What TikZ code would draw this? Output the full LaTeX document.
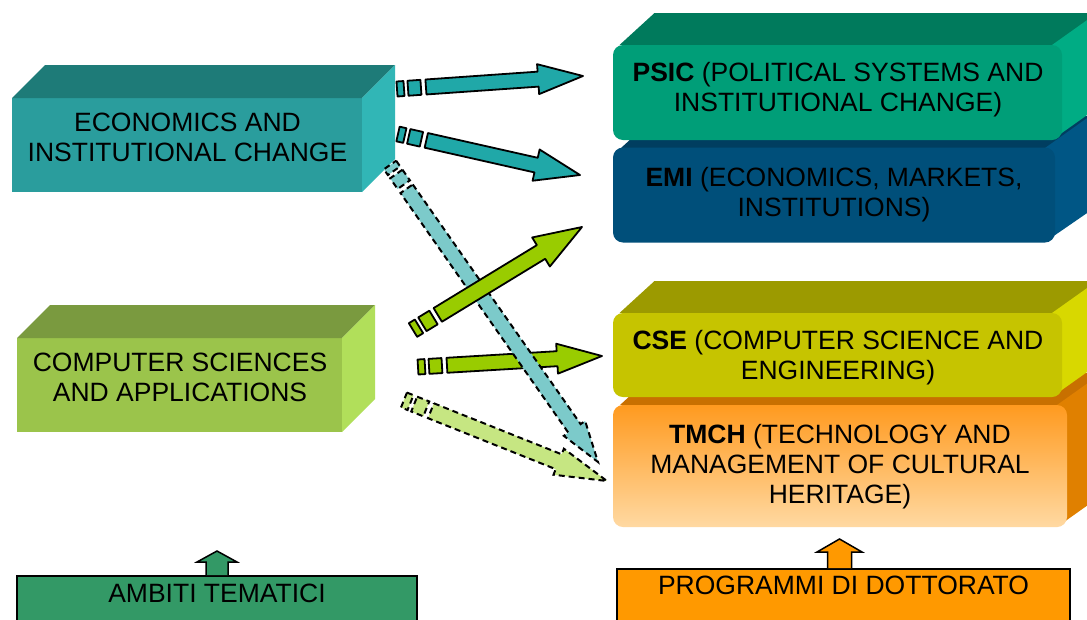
\documentclass[tikz,border=0pt]{standalone}
\usepackage{fontspec}
\setmainfont{Liberation Sans}
\usetikzlibrary{calc}
\definecolor{eicF}{HTML}{2A9D9D}
\definecolor{eicT}{HTML}{1E7B78}
\definecolor{eicR}{HTML}{31B6B6}
\definecolor{csaF}{HTML}{9BC44B}
\definecolor{csaT}{HTML}{7A9A3F}
\definecolor{csaR}{HTML}{B1DF5A}
\definecolor{psicF}{HTML}{009E78}
\definecolor{psicT}{HTML}{007A5C}
\definecolor{psicR}{HTML}{00AC84}
\definecolor{emiF}{HTML}{004F7A}
\definecolor{emiT}{HTML}{003E60}
\definecolor{emiR}{HTML}{005685}
\definecolor{cseF}{HTML}{C6C400}
\definecolor{cseT}{HTML}{9C9A00}
\definecolor{cseR}{HTML}{D8D800}
\definecolor{tmchA}{HTML}{FF9A1F}
\definecolor{tmchB}{HTML}{FFD9A2}
\definecolor{tmchT}{HTML}{C87000}
\definecolor{tmchR}{HTML}{E08000}
\definecolor{arTeal}{HTML}{20A8A8}
\definecolor{arTealL}{HTML}{7CCACA}
\definecolor{arGreen}{HTML}{99CC00}
\definecolor{arGreenL}{HTML}{C6E682}
\definecolor{ambF}{HTML}{339966}
\definecolor{progF}{HTML}{FF9900}
\newcommand\lbl{\fontsize{26.5}{30}\selectfont}
% block arrow: #1 from, #2 to, #3 style, #4 prefix, #5 shaft half width, #6 head half width, #7 head length
\newcommand\blockarrow[7]{%
  \coordinate (#4p1) at ($(#1)!7pt!(#2)$);
  \coordinate (#4p2) at ($(#1)!11pt!(#2)$);
  \coordinate (#4p3) at ($(#1)!24pt!(#2)$);
  \coordinate (#4p4) at ($(#1)!29pt!(#2)$);
  \coordinate (#4hb) at ($(#2)!#7!(#1)$);
  \draw[#3] ($(#1)!#5!90:(#2)$) -- ($(#4p1)!#5!90:(#2)$) -- ($(#4p1)!#5!-90:(#2)$) -- ($(#1)!#5!-90:(#2)$) -- cycle;
  \draw[#3] ($(#4p2)!#5!90:(#2)$) -- ($(#4p3)!#5!90:(#2)$) -- ($(#4p3)!#5!-90:(#2)$) -- ($(#4p2)!#5!-90:(#2)$) -- cycle;
  \draw[#3] ($(#4p4)!#5!90:(#2)$) -- ($(#4hb)!#5!90:(#2)$) -- ($(#4hb)!#6!90:(#2)$) -- (#2)
     -- ($(#4hb)!#6!-90:(#2)$) -- ($(#4hb)!#5!-90:(#2)$) -- ($(#4p4)!#5!-90:(#2)$) -- cycle;
}
\begin{document}
\begin{tikzpicture}[x=1pt,y=-1pt,
  front/.style={inner sep=0pt, outer sep=0pt},
  rbox/.style={front, rounded corners=10pt},
  lbltext/.style={inner sep=0pt, align=center, font=\lbl, text=black},
  solidarrow/.style={draw=black, line width=1.8pt, line join=round},
  dasharrow/.style={draw=black, line width=2pt, dash pattern=on 6pt off 4pt},
  bottombox/.style={draw=black, line width=1.5pt}]
\useasboundingbox (0,0) rectangle (1087,619);
\clip (0,0) rectangle (1087,619);
\fill[white] (0,0) rectangle (1087,619);

% ---- left boxes ----
\node[front, fill=eicF, minimum width=350pt, minimum height=94pt] (eic) at (187,145) {};
\fill[eicT] (eic.north west) -- ++(33,-33) -- ($(eic.north east)+(33,-33)$) -- (eic.north east) -- cycle;
\fill[eicR] (eic.north east) -- ++(33,-33) -- ++(0,94) -- (eic.south east) -- cycle;
\node[lbltext] (eict) at (187.5,137.5) {ECONOMICS AND\\INSTITUTIONAL CHANGE};

\node[front, fill=csaF, minimum width=325pt, minimum height=94pt] (csa) at (179.5,385) {};
\fill[csaT] (csa.north west) -- ++(33,-33) -- ($(csa.north east)+(33,-33)$) -- (csa.north east) -- cycle;
\fill[csaR] (csa.north east) -- ++(33,-33) -- ++(0,94) -- (csa.south east) -- cycle;
\node[lbltext] (csat) at (180,377) {COMPUTER SCIENCES\\AND APPLICATIONS};

% ---- right boxes ----
\coordinate (emiC) at (834,195);
\fill[emiT] ($(emiC)+(-213,-47)$) -- ++(35,-32) -- ++(480,0) -- ++(0,32) -- cycle;
\fill[emiR] ($(emiC)+(211,-47)$) -- ++(45,-32) -- ++(0,95) -- ($(emiC)+(211,47)$) -- cycle;
\node[rbox, fill=emiF, minimum width=442pt, minimum height=95pt] (emi) at (emiC) {};
\node[lbltext] (emit) at (834,194.5) {\textbf{EMI} (ECONOMICS, MARKETS,\\INSTITUTIONS)};

\coordinate (psicC) at (837.5,92.5);
\fill[psicT] ($(psicC)+(-218,-47.5)$) -- ++(35,-32) -- ++(480,0) -- ++(0,32) -- cycle;
\fill[psicR] ($(psicC)+(214.5,-47.5)$) -- ++(45,-32) -- ++(0,95) -- ($(psicC)+(214.5,47.5)$) -- cycle;
\node[rbox, fill=psicF, minimum width=449pt, minimum height=95pt] (psic) at (psicC) {};
\node[lbltext] (psict) at (838,89.5) {\textbf{PSIC} (POLITICAL SYSTEMS AND\\INSTITUTIONAL CHANGE)};

\coordinate (tmchC) at (840,466);
\fill[tmchT] ($(tmchC)+(-220,-61)$) -- ++(35,-32) -- ++(480,0) -- ++(0,32) -- cycle;
\fill[tmchR] ($(tmchC)+(217,-61)$) -- ++(45,-32) -- ++(0,122) -- ($(tmchC)+(217,61)$) -- cycle;
\node[rbox, top color=tmchA, bottom color=tmchB, minimum width=454pt, minimum height=122pt] (tmch) at (tmchC) {};
\node[lbltext] (tmcht) at (840,466.6) {\textbf{TMCH} (TECHNOLOGY AND\\MANAGEMENT OF CULTURAL\\HERITAGE)};

\coordinate (cseC) at (837.5,355);
\fill[cseT] ($(cseC)+(-218,-42)$) -- ++(35,-32) -- ++(480,0) -- ++(0,32) -- cycle;
\fill[cseR] ($(cseC)+(214.5,-42)$) -- ++(45,-32) -- ++(0,84) -- ($(cseC)+(214.5,42)$) -- cycle;
\node[rbox, fill=cseF, minimum width=449pt, minimum height=84pt] (cse) at (cseC) {};
\node[lbltext] (cset) at (838,357.5) {\textbf{CSE} (COMPUTER SCIENCE AND\\ENGINEERING)};

% ---- block arrows ----
\coordinate (s1) at (397,89);  \coordinate (e1) at (583,76);
\coordinate (s2) at (398,134); \coordinate (e2) at (580,175);
\coordinate (s3) at (390,165); \coordinate (e3) at (598,462);
\coordinate (s4) at (413,330); \coordinate (e4) at (582,227);
\coordinate (s5) at (418,367); \coordinate (e5) at (602,356);
\coordinate (s6) at (404,400); \coordinate (e6) at (607,481);

\blockarrow{s1}{e1}{solidarrow, fill=arTeal}{a}{7.5pt}{15pt}{45pt}
\blockarrow{s2}{e2}{solidarrow, fill=arTeal}{b}{7.5pt}{16pt}{45pt}
\blockarrow{s6}{e6}{dasharrow, fill=arGreenL}{f}{8pt}{14pt}{52pt}
\blockarrow{s5}{e5}{solidarrow, fill=arGreen}{e}{7.5pt}{15pt}{45pt}
\blockarrow{s3}{e3}{dasharrow, fill=arTealL}{c}{7.5pt}{13pt}{41pt}
\blockarrow{s4}{e4}{solidarrow, fill=arGreen}{d}{8pt}{17pt}{48pt}

% ---- bottom legend boxes ----
\node[bottombox, fill=ambF, minimum width=400pt, minimum height=80pt, anchor=north] (amb) at (217,575) {};
\node[lbltext] (ambt) at (217,593) {AMBITI TEMATICI};
\draw[bottombox, fill=ambF] ($(amb.north)+(-11,0)$) -- ++(0,-13) -- ++(-9,0) -- ($(amb.north)+(0,-24)$)
  -- ($(amb.north)+(20,-13)$) -- ++(-9,0) -- ($(amb.north)+(11,0)$);

\node[bottombox, fill=progF, minimum width=453pt, minimum height=80pt, anchor=north] (prog) at (843.5,568) {};
\node[lbltext] (progt) at (843.5,585) {PROGRAMMI DI DOTTORATO};
\draw[bottombox, fill=progF] ($(prog.north)+(-16,0)$) -- ++(0,-16) -- ++(-10.5,0) -- ($(prog.north)+(-4,-29)$)
  -- ($(prog.north)+(18.5,-16)$) -- ++(-10.5,0) -- ($(prog.north)+(8,0)$);
\end{tikzpicture}
\end{document}
